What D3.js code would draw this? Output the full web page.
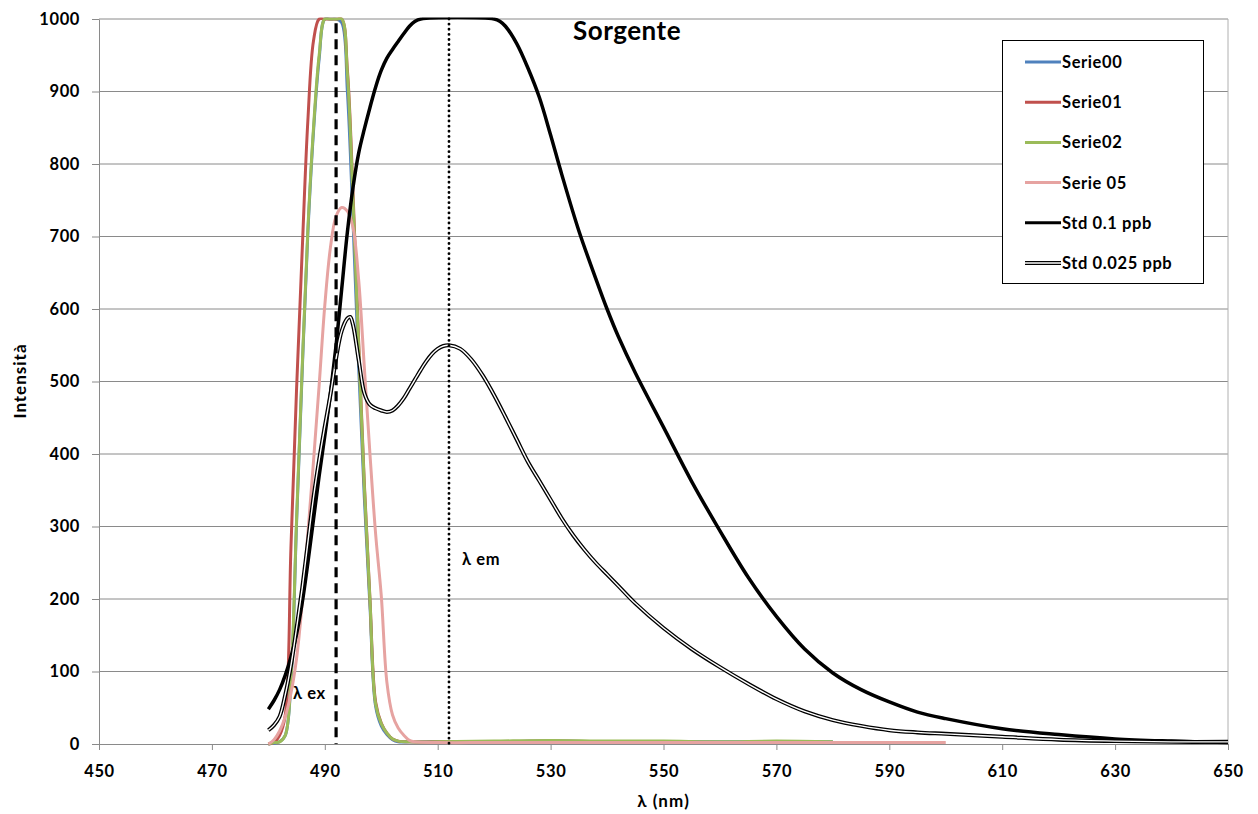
<!DOCTYPE html>
<html><head><meta charset="utf-8">
<script src="https://cdn.jsdelivr.net/npm/d3@7"></script>
<style>
html,body{margin:0;padding:0;background:#fff;}
svg{display:block;font-family:Lato,"Open Sans",sans-serif;font-weight:700;}
</style></head>
<body><svg id="chart" width="1258" height="814"></svg>
<script>
// ---- data ----
const xTicks = [450,470,490,510,530,550,570,590,610,630,650];
const yTicks = [0,100,200,300,400,500,600,700,800,900,1000];
const seriesNames = ["Serie00","Serie01","Serie02","Serie 05","Std 0.1 ppb","Std 0.025 ppb"];
const seriesColors = ["#4F81BD","#C0504D","#9BBB59","#E6A3A1","#000000","#000000"];

const lamFilter = [480,481,482,483,484,485,486,487,488,489,490,491,492,493,494,495,496,497,498,499,500,501,502,503,505,510,520,530,540,550,560,570,580];
const serie00 = [0,1,3,12,85,305,515,705,845,945,1000,1000,1000,995,900,720,520,340,190,52,25,13,6,3,3,3,3,4,3,3,3,3,3];
const serie01 = [0,2,12,40,270,490,681,860,970,1000,1000,1000,1000,1000,930,760,555,360,200,58,29,15,7,4,3,3,3,4,3,3,2,2,2];
const serie02 = [0,2,3,12,90,310,520,710,850,950,1000,1000,1000,1000,925,750,547,355,198,55,28,15,7,4,3,3,4,5,4,4,3,4,3];

const lamSerie05 = [480,481,482,483,484,485,486,487,488,489,490,491,492,493,494,495,496,497,498,499,500,501,502,503,504,505,506,510,520,540,560,580,600];
const serie05 = [0,6,18,38,70,118,195,290,390,495,605,685,728,740,735,712,640,520,400,290,205,85,40,22,12,5,3,2,2,2,2,2,2];

const lamStd01 = [480,481,482,483,484,485,486,487,488,489,490,491,492,493,494,495,496,497,498,499,500,501,502,503,504,505,506,507,520,521,522,524,526,528,530,532,535,538,540,542,545,550,555,560,565,570,575,580,585,590,595,600,610,620,630,640,650];
const std01 = [48,60,75,95,120,152,195,250,310,370,425,483,550,628,706,768,815,848,878,906,929,946,958,969,980,990,997,1000,1000,997,990,966,932,892,840,785,708,642,600,562,512,437,362,294,230,176,131,98,75,58,44,35,21,13,7,4,2];

const lamStd0025 = [480,481,482,483,484,485,486,487,488,489,490,491,492,493,494,494.5,495,496,497,498,499,500,501,502,503,504,505,506,507,508,509,510,511,512,514,516,518,520,522,524,526,528,530,532,534,536,538,540,542,545,550,555,560,565,570,575,580,585,590,595,600,610,620,630,640,650];
const std0025 = [19,26,38,68,108,160,215,278,340,392,438,482,532,570,587,589,578,530,484,468,463,460,458,460,467,477,490,503,516,528,538,545,549,550,545,530,508,481,451,420,389,363,337,311,288,268,250,234,218,194,160,131,106,83,62,45,33,25,19,16,14,10,6,4,3,3];

const lambdaEx = 492, lambdaEm = 512;

// ---- layout ----
const svg = d3.select("#chart");
const x = d3.scaleLinear().domain([450,650]).range([99,1228]);
const y = d3.scaleLinear().domain([0,1000]).range([744,19]);

svg.append("defs").append("clipPath").attr("id","plotclip")
  .append("rect").attr("x",x(450)).attr("y",y(1000)-1.6).attr("width",x(650)-x(450)).attr("height",y(0)-y(1000)+10);

// gridlines
svg.append("g").selectAll("line").data(yTicks.filter(d=>d>0)).join("line")
  .attr("x1",x(450)).attr("x2",x(650)).attr("y1",d=>y(d)).attr("y2",d=>y(d))
  .attr("stroke","#8a8a8a").attr("stroke-width",1);
// right border
svg.append("line").attr("x1",x(650)).attr("x2",x(650)).attr("y1",y(1000)).attr("y2",y(0))
  .attr("stroke","#b0b0b0").attr("stroke-width",1);

// axes
const yAxis = d3.axisLeft(y).tickValues(yTicks).tickFormat(d3.format("d")).tickSize(7).tickPadding(12).tickSizeOuter(0);
const gy = svg.append("g").attr("transform",`translate(${x(450)},0)`).call(yAxis);
const xAxis = d3.axisBottom(x).tickValues(xTicks).tickFormat(d3.format("d")).tickSize(6).tickPadding(15).tickSizeOuter(0);
const gx = svg.append("g").attr("transform",`translate(0,${y(0)})`).call(xAxis);
[gx,gy].forEach(g=>{
  g.select(".domain").attr("stroke","#8a8a8a");
  g.selectAll(".tick line").attr("stroke","#8a8a8a");
  g.selectAll("text").attr("fill","#000").style("font-size","16.5px").style("font-family","Lato").style("font-weight","700").style("letter-spacing","0.6px");
});

// series
const mk = (xs,vs)=>xs.map((l,i)=>[l,vs[i]]);
const line = d3.line().x(d=>x(d[0])).y(d=>y(d[1])).curve(d3.curveCatmullRom.alpha(0.5));
const seriesData = [mk(lamFilter,serie00),mk(lamFilter,serie01),mk(lamFilter,serie02),mk(lamSerie05,serie05),mk(lamStd01,std01),mk(lamStd0025,std0025)];
const plot = svg.append("g").attr("clip-path","url(#plotclip)");
seriesData.forEach((d,i)=>{
  if(i===5){
    plot.append("path").attr("d",line(d)).attr("fill","none").attr("stroke","#000").attr("stroke-width",4);
    plot.append("path").attr("d",line(d)).attr("fill","none").attr("stroke","#fff").attr("stroke-width",1.4);
  } else {
    plot.append("path").attr("d",line(d)).attr("fill","none").attr("stroke",seriesColors[i])
      .attr("stroke-width",i===4?3.5:3).attr("stroke-linejoin","round");
  }
});

// reference lines
svg.append("line").attr("x1",x(lambdaEx)).attr("x2",x(lambdaEx)).attr("y1",y(994)).attr("y2",y(0))
  .attr("stroke","#000").attr("stroke-width",3.2).attr("stroke-dasharray","10,6");
svg.append("line").attr("x1",x(lambdaEm)).attr("x2",x(lambdaEm)).attr("y1",y(1000)).attr("y2",y(0))
  .attr("stroke","#000").attr("stroke-width",2.8).attr("stroke-dasharray","0.1,5").attr("stroke-linecap","round");

// annotations
svg.append("text").attr("x",293).attr("y",699).text("λ ex").style("font-size","16.5px").style("letter-spacing","0.6px").attr("fill","#000");
svg.append("text").attr("x",462).attr("y",565).text("λ em").style("font-size","16.5px").style("letter-spacing","0.6px").attr("fill","#000");
svg.append("text").attr("x",627).attr("y",40).attr("text-anchor","middle").text("Sorgente")
  .style("font-size","26px").style("letter-spacing","0.5px").attr("fill","#000");

// axis titles
svg.append("text").attr("x",x(550)).attr("y",807).attr("text-anchor","middle").text("λ (nm)")
  .style("font-size","17px").style("letter-spacing","1px").attr("fill","#000");
svg.append("text").attr("transform","translate(26,381) rotate(-90)").attr("text-anchor","middle").text("Intensità")
  .style("font-size","17px").style("letter-spacing","1px").attr("fill","#000");

// legend
const lg = svg.append("g");
lg.append("rect").attr("x",1002.5).attr("y",40.5).attr("width",201).attr("height",243)
  .attr("fill","#fff").attr("stroke","#000").attr("stroke-width",1);
seriesNames.forEach((n,i)=>{
  const yy = 62 + i*40.2;
  if(i===5){
    lg.append("line").attr("x1",1025).attr("x2",1061).attr("y1",yy).attr("y2",yy).attr("stroke","#000").attr("stroke-width",4);
    lg.append("line").attr("x1",1025).attr("x2",1061).attr("y1",yy).attr("y2",yy).attr("stroke","#fff").attr("stroke-width",1.4);
  } else {
    lg.append("line").attr("x1",1025).attr("x2",1061).attr("y1",yy).attr("y2",yy).attr("stroke",seriesColors[i]).attr("stroke-width",3);
  }
  lg.append("text").attr("x",1062).attr("y",yy).attr("dy","0.36em").text(n)
    .style("font-size","16.5px").style("letter-spacing","0.6px").attr("fill","#000");
});
</script></body></html>
